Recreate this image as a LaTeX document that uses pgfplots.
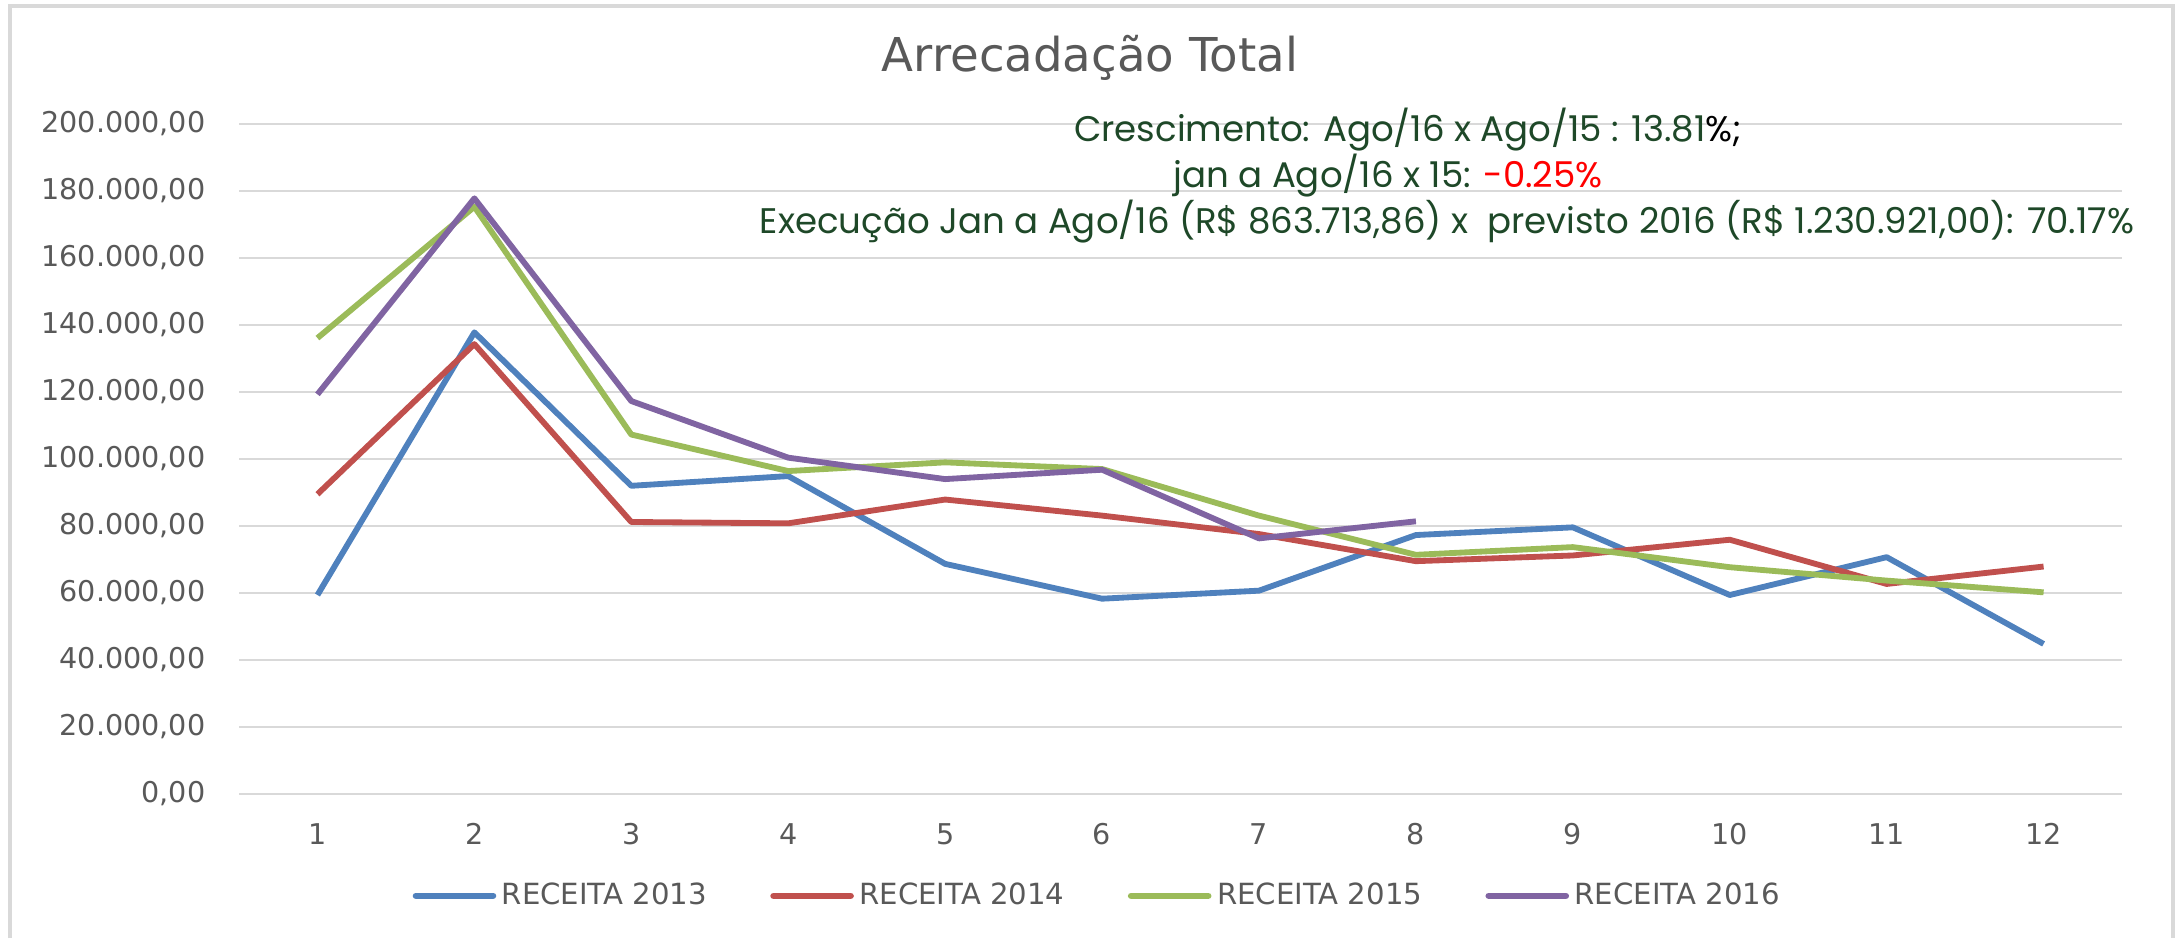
\documentclass[border=0pt]{standalone}
\usepackage{pgfplots}
\pgfplotsset{compat=1.18}
\usepackage{fontspec}
\setmainfont{DejaVu Sans}
\newfontfamily\notefont{Poppins}

\definecolor{c13}{RGB}{79,129,189}
\definecolor{c14}{RGB}{192,80,77}
\definecolor{c15}{RGB}{155,187,89}
\definecolor{c16}{RGB}{128,100,162}
\definecolor{txtgray}{RGB}{89,89,89}
\definecolor{gridgray}{RGB}{217,217,217}
\definecolor{notegreen}{RGB}{30,72,40}

\begin{document}
\begin{tikzpicture}
\useasboundingbox (0,0) rectangle (784.44pt,337.68pt);
% frame (open at the bottom)
\draw[gridgray, line width=1.4pt] (3.6pt,0) -- (3.6pt,335.5pt) -- (782.3pt,335.5pt) -- (782.3pt,0);

\begin{axis}[
    at={(86.04pt,51.84pt)}, anchor=south west,
    scale only axis, width=677.9pt, height=241.2pt,
    xmin=0.5, xmax=12.5, ymin=0, ymax=200000,
    xtick={1,...,12}, ytick={0,20000,...,200000},
    yticklabels={{0,00},{20.000,00},{40.000,00},{60.000,00},{80.000,00},{100.000,00},{120.000,00},{140.000,00},{160.000,00},{180.000,00},{200.000,00}},
    scaled y ticks=false,
    /pgf/number format/assume math mode=true,
    axis line style={draw=none}, major tick length=0pt,
    ymajorgrids, grid style={gridgray, line width=0.5pt},
    tick label style={font=\fontsize{10.3}{12}\selectfont, text=txtgray, inner sep=0pt},
    yticklabel style={anchor=east, xshift=-11.9pt},
    xticklabel style={anchor=base, yshift=-18.2pt},
    legend columns=4,
    legend style={at={(0.4567,-0.152)}, anchor=center, draw=none, fill=none,
        inner sep=0pt, font=\fontsize{10.5}{12}\selectfont, text=txtgray,
        /tikz/every even column/.append style={column sep=20.8pt}},
    legend image code/.code={\draw[#1, line width=2.4pt, line cap=round] (0pt,0pt) -- (27.7pt,0pt);},
    every axis plot/.append style={line width=2.1pt, line join=round, mark=none},
]
\addplot[c13] coordinates {(1,59400) (2,137800) (3,92000) (4,94900) (5,68700) (6,58300) (7,60700) (8,77300) (9,79600) (10,59400) (11,70700) (12,44800)};
\addlegendentry{RECEITA 2013}
\addplot[c14] coordinates {(1,89500) (2,134300) (3,81200) (4,80800) (5,87900) (6,83100) (7,77600) (8,69500) (9,71200) (10,75900) (11,62700) (12,67900)};
\addlegendentry{RECEITA 2014}
\addplot[c15] coordinates {(1,136100) (2,175300) (3,107300) (4,96400) (5,99000) (6,97000) (7,83100) (8,71400) (9,73700) (10,67700) (11,63700) (12,60200)};
\addlegendentry{RECEITA 2015}
\addplot[c16] coordinates {(1,119300) (2,177800) (3,117300) (4,100400) (5,94000) (6,96800) (7,76300) (8,81400)};
\addlegendentry{RECEITA 2016}
\end{axis}

% title
\node[text=txtgray, font=\fontsize{16.8}{20}\selectfont] at (392.4pt,316.8pt) {Arrecadação Total};
% annotation
\begin{scope}[every node/.style={text=notegreen, font=\notefont\fontsize{12.8}{15}\selectfont, inner sep=0pt}]
\node at (506.9pt,291.2pt) {Crescimento: Ago/16 x Ago/15 : 13.81\textcolor{black}{\%;}};
\node at (499.7pt,274.3pt) {jan a Ago/16 x 15: \textcolor{red}{-0.25\%}};
\node at (520.9pt,257.8pt) {Execução Jan a Ago/16 (R\$ 863.713,86) x\ \ previsto 2016 (R\$ 1.230.921,00): 70.17\%};
\end{scope}
\end{tikzpicture}
\end{document}
